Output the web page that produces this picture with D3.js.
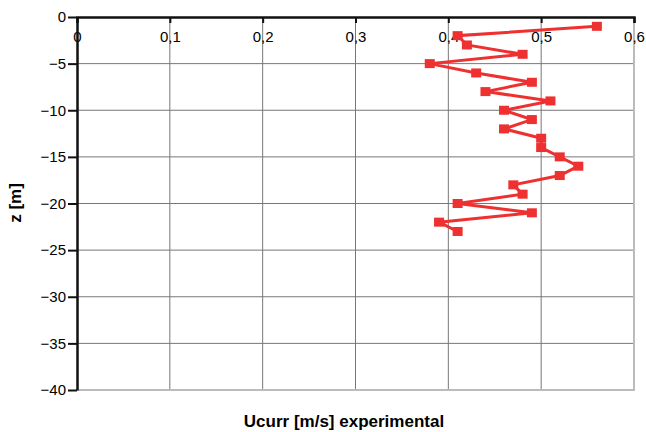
<!DOCTYPE html>
<html>
<head>
<meta charset="utf-8">
<script src="https://cdn.jsdelivr.net/npm/d3@7"></script>
<style>
  body { margin: 0; background: #fff; }
  text { font-family: "Liberation Sans", Arial, sans-serif; }
</style>
</head>
<body>
<svg id="chart" width="646" height="432"></svg>
<script>
"use strict";

// measured profile: depth z [m] and current speed [m/s]
const depths = [ -1, -2, -3, -4, -5, -6, -7, -8, -9, -10, -11, -12,
                 -13, -14, -15, -16, -17, -18, -19, -20, -21, -22, -23 ];
const ucurr  = [ 0.56, 0.41, 0.42, 0.48, 0.38, 0.43, 0.49, 0.44, 0.51, 0.46, 0.49, 0.46,
                 0.50, 0.50, 0.52, 0.54, 0.52, 0.47, 0.48, 0.41, 0.49, 0.39, 0.41 ];

const xTicks = [ 0, 0.1, 0.2, 0.3, 0.4, 0.5, 0.6 ];
const yTicks = [ 0, -5, -10, -15, -20, -25, -30, -35, -40 ];

const xTitle = 'Ucurr [m/s] experimental',
      yTitle = 'z [m]';

const margin = { left: 77, right: 12, top: 17, bottom: 42 },
      width  = 646 - margin.left - margin.right,
      height = 432 - margin.top - margin.bottom;

const svg = d3.select( '#chart' );
const g = svg.append( 'g' )
             .attr( 'transform', `translate(${margin.left},${margin.top})` );

const x = d3.scaleLinear().domain( [0, 0.6] ).range( [0, width] );
const y = d3.scaleLinear().domain( [0, -40] ).range( [0, height] );

const fmt = (v) => String( +v.toFixed(1) ).replace( '.', ',' );

// grid
g.append( 'g' )
   .selectAll( 'line' )
   .data( xTicks.slice( 1, -1 ) )
 .enter().append( 'line' )
   .attr( 'x1', d => x(d) ).attr( 'x2', d => x(d) )
   .attr( 'y1', 0 ).attr( 'y2', height )
   .attr( 'stroke', '#777' ).attr( 'stroke-width', 1 );

g.append( 'g' )
   .selectAll( 'line' )
   .data( yTicks.slice( 1, -1 ) )
 .enter().append( 'line' )
   .attr( 'x1', 0 ).attr( 'x2', width )
   .attr( 'y1', d => y(d) ).attr( 'y2', d => y(d) )
   .attr( 'stroke', '#777' ).attr( 'stroke-width', 1 );

// right and bottom frame
g.append( 'path' )
   .attr( 'd', `M${x(0.6)},0 V${y(-40)} H0` )
   .attr( 'fill', 'none' )
   .attr( 'stroke', '#bbb' ).attr( 'stroke-width', 2 );

// top axis, ticks point into the plot, labels below the line
const xAxis = g.append( 'g' )
   .call( d3.axisTop( x ).tickValues( xTicks ).tickSize( -6 ).tickFormat( fmt ) );
xAxis.select( '.domain' ).attr( 'stroke', '#111' ).attr( 'stroke-width', 2.5 );
xAxis.selectAll( '.tick line' ).attr( 'stroke', '#111' ).attr( 'stroke-width', 2 );
xAxis.selectAll( '.tick text' )
   .attr( 'y', 25 )
   .attr( 'fill', '#000' )
   .style( 'font-size', '15px' );

// left axis
const yAxis = g.append( 'g' )
   .call( d3.axisLeft( y ).tickValues( yTicks ).tickSize( 9 ).tickSizeOuter( 0 ).tickPadding( 2 ) );
yAxis.select( '.domain' ).attr( 'stroke', '#111' ).attr( 'stroke-width', 2.5 );
yAxis.selectAll( '.tick line' ).attr( 'stroke', '#111' ).attr( 'stroke-width', 2 );
yAxis.selectAll( '.tick text' )
   .attr( 'fill', '#000' )
   .style( 'font-size', '15px' );

// series
const pts = depths.map( (d, i) => [ ucurr[i], d ] );
const color = '#ee3030';

g.append( 'path' )
   .datum( pts )
   .attr( 'd', d3.line().x( d => x(d[0]) ).y( d => y(d[1]) ) )
   .attr( 'fill', 'none' )
   .attr( 'stroke', color )
   .attr( 'stroke-width', 3 );

g.append( 'g' )
   .selectAll( 'rect' )
   .data( pts )
 .enter().append( 'rect' )
   .attr( 'x', d => x(d[0]) - 5 )
   .attr( 'y', d => y(d[1]) - 4.5 )
   .attr( 'width', 10 )
   .attr( 'height', 9 )
   .attr( 'fill', color );

// titles
svg.append( 'text' )
   .attr( 'x', 344 )
   .attr( 'y', 427 )
   .attr( 'text-anchor', 'middle' )
   .style( 'font-size', '17px' )
   .style( 'font-weight', 'bold' )
   .text( xTitle );

svg.append( 'text' )
   .attr( 'transform', 'translate(21,203) rotate(-90)' )
   .attr( 'text-anchor', 'middle' )
   .style( 'font-size', '17px' )
   .style( 'font-weight', 'bold' )
   .text( yTitle );
</script>
</body>
</html>
